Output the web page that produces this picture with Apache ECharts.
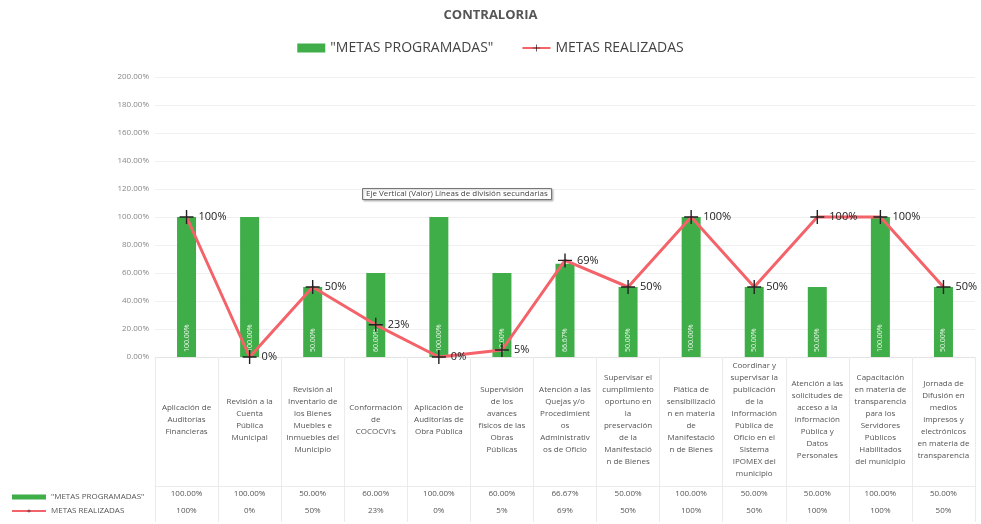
<!DOCTYPE html>
<html>
<head>
<meta charset="utf-8">
<script src="https://cdn.jsdelivr.net/npm/echarts@6/dist/echarts.min.js"></script>
<style>
  html, body { margin: 0; padding: 0; background: #fff; }
  #main { width: 981px; height: 524px; }
</style>
</head>
<body>
<div id="main"></div>
<script>
const categories = [
  'Aplicación de\nAuditorías\nFinancieras',
  'Revisión a la\nCuenta\nPública\nMunicipal',
  'Revisión al\nInventario de\nlos Bienes\nMuebles e\nInmuebles del\nMunicipio',
  'Conformación\nde\nCOCOCVI\'s',
  'Aplicación de\nAuditorías de\nObra Pública',
  'Supervisión\nde los\navances\nfísicos de las\nObras\nPúblicas',
  'Atención a las\nQuejas y/o\nProcedimient\nos\nAdministrativ\nos de Oficio',
  'Supervisar el\ncumplimiento\noportuno en\nla\npreservación\nde la\nManifestació\nn de Bienes',
  'Plática de\nsensibilizació\nn en materia\nde\nManifestació\nn de Bienes',
  'Coordinar y\nsupervisar la\npublicación\nde la\nInformación\nPública de\nOficio en el\nSistema\nIPOMEX del\nmunicipio',
  'Atención a las\nsolicitudes de\nacceso a la\ninformación\nPública y\nDatos\nPersonales',
  'Capacitación\nen materia de\ntransparencia\npara los\nServidores\nPúblicos\nHabilitados\ndel municipio',
  'Jornada de\nDifusión en\nmedios\nimpresos y\nelectrónicos\nen materia de\ntransparencia'
];
const metasProgramadas = [100, 100, 50, 60, 100, 60, 66.67, 50, 100, 50, 50, 100, 50];
const metasRealizadas = [100, 0, 50, 23, 0, 5, 69, 50, 100, 50, 100, 100, 50];

const nameProg = '"METAS PROGRAMADAS"';
const nameReal = 'METAS REALIZADAS';
const plusIcon = 'path://M4.5,0h1v4.5h4.5v1h-4.5v4.5h-1v-4.5h-4.5v-1h4.5z';
const fontFam = 'Open Sans, DejaVu Sans, sans-serif';

const chart = echarts.init(document.getElementById('main'), null, { renderer: 'canvas' });

const option = {
  backgroundColor: '#fff',
  textStyle: { fontFamily: fontFam },
  title: [
    {
      text: 'CONTRALORIA',
      left: 'center',
      top: 4,
      textStyle: { fontSize: 13, fontWeight: 'bold', color: '#555', fontFamily: fontFam }
    },
    {
      text: 'Eje Vertical (Valor) Líneas de división secundarias',
      left: 362,
      top: 188,
      padding: [2, 4],
      borderColor: '#777',
      borderWidth: 1,
      backgroundColor: '#fff',
      shadowColor: 'rgba(0,0,0,0.25)',
      shadowBlur: 2,
      shadowOffsetX: 1,
      shadowOffsetY: 1,
      textStyle: { fontSize: 8, fontWeight: 'normal', color: '#444', fontFamily: fontFam }
    }
  ],
  legend: [
    {
      data: [{ name: nameProg, icon: 'rect' }, { name: nameReal }],
      top: 36,
      left: 'center',
      itemWidth: 28,
      itemHeight: 9,
      itemGap: 28,
      textStyle: { fontSize: 14, color: '#444' }
    },
    {
      data: [{ name: nameProg, icon: 'rect' }, { name: nameReal }],
      orient: 'vertical',
      left: 6,
      top: 488,
      itemWidth: 34,
      itemHeight: 5,
      itemGap: 6,
      textStyle: { fontSize: 8, color: '#555' }
    }
  ],
  grid: { left: 155, right: 6, top: 77, bottom: 167 },
  xAxis: [
    {
      type: 'category',
      data: categories,
      position: 'bottom',
      axisLine: { lineStyle: { color: '#e4e4e4' } },
      axisTick: { show: true, length: 165, interval: 0, lineStyle: { color: '#ebebeb' } },
      axisLabel: {
        interval: 0,
        margin: 63,
        verticalAlign: 'middle',
        fontSize: 8,
        lineHeight: 12,
        color: '#555'
      }
    },
    {
      type: 'category',
      data: categories,
      position: 'bottom',
      offset: 129,
      axisLine: { show: true, lineStyle: { color: '#ebebeb' } },
      axisTick: { show: false },
      axisLabel: {
        interval: 0,
        margin: 8,
        verticalAlign: 'middle',
        fontSize: 8,
        color: '#555',
        formatter: (v, i) => metasProgramadas[i].toFixed(2) + '%'
      }
    },
    {
      type: 'category',
      data: categories,
      position: 'bottom',
      offset: 146,
      axisLine: { show: false },
      axisTick: { show: false },
      axisLabel: {
        interval: 0,
        margin: 8,
        verticalAlign: 'middle',
        fontSize: 8,
        color: '#555',
        formatter: (v, i) => Math.round(metasRealizadas[i]) + '%'
      }
    }
  ],
  yAxis: {
    type: 'value',
    min: 0,
    max: 200,
    interval: 20,
    axisLine: { show: false },
    axisTick: { show: false },
    splitLine: { lineStyle: { color: '#f0f0f0' } },
    axisLabel: {
      fontSize: 8,
      color: '#888',
      margin: 6,
      formatter: v => v.toFixed(2) + '%'
    }
  },
  series: [
    {
      name: nameProg,
      type: 'bar',
      xAxisIndex: 0,
      data: metasProgramadas,
      barWidth: 19,
      itemStyle: { color: '#3fae49' },
      label: {
        show: true,
        position: 'insideBottom',
        rotate: 90,
        align: 'left',
        verticalAlign: 'middle',
        distance: 5,
        fontSize: 7,
        color: '#e8f5e8',
        formatter: p => p.value.toFixed(2) + '%'
      }
    },
    {
      name: nameReal,
      type: 'line',
      xAxisIndex: 0,
      data: metasRealizadas,
      symbol: plusIcon,
      symbolSize: 14,
      lineStyle: { color: '#f4626a', width: 3 },
      itemStyle: { color: '#222', borderWidth: 0 },
      label: {
        show: true,
        position: 'right',
        distance: 5,
        fontSize: 11,
        color: '#222',
        formatter: p => p.value + '%'
      },
      z: 3
    }
  ]
};

chart.setOption(option);
</script>
</body>
</html>
